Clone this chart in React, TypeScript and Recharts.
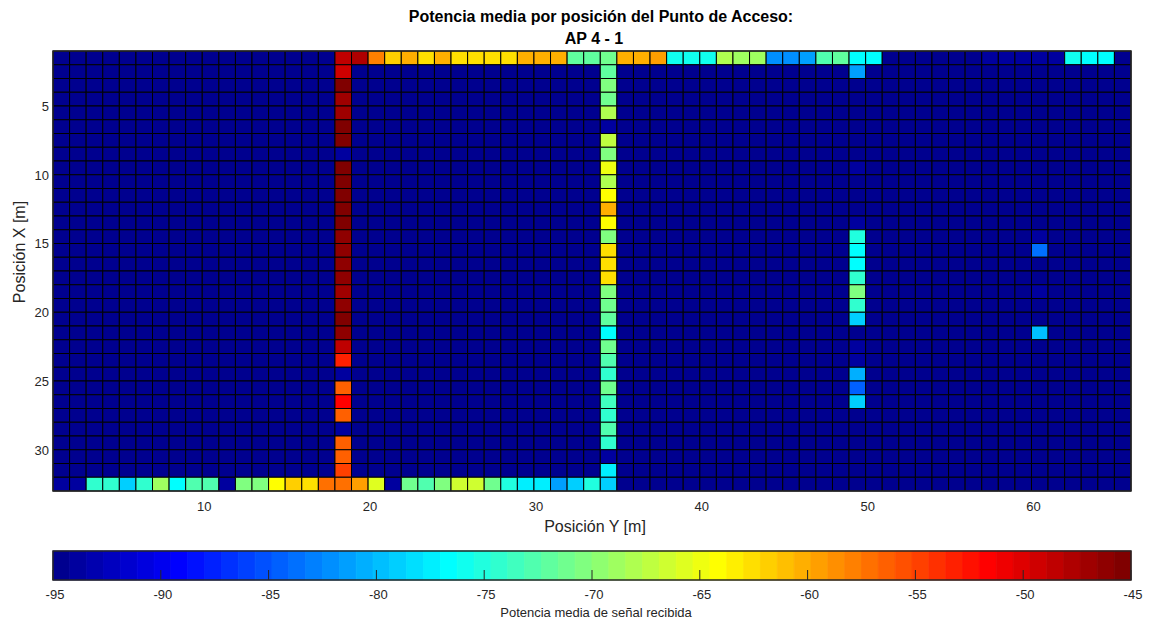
import React from "react";
import { ScatterChart, Scatter, XAxis, YAxis, ReferenceArea } from "recharts";

const FONT = '"Liberation Sans", Arial, Helvetica, sans-serif';
const INK = "#262626";

// colour limits of the jet scale (dBm)
const cMin = -95;
const cMax = -45;
const floorLevel = -95;

const posYTicks = [10, 20, 30, 40, 50, 60];
const posXTicks = [5, 10, 15, 20, 25, 30];
const barTicks = [-95, -90, -85, -80, -75, -70, -65, -60, -55, -50, -45];

// first row (Posición X = 1), Posición Y = 1..65
const rowTop = [
  -95, -95, -95, -95, -95, -95, -95, -95, -95, -95,
  -95, -95, -95, -95, -95, -95, -95, -48.5, -47.7, -57.9,
  -61.8, -60.6, -62.6, -60.6, -62.2, -62.6, -62.2, -62.6, -60.6, -60.6,
  -60.6, -71.9, -71.9, -71.2, -60.6, -60.6, -59.5, -75.8, -75.8, -75.8,
  -68.0, -68.8, -68.8, -82.1, -82.1, -81.3, -72.7, -71.9, -76.6, -76.6,
  -95, -95, -95, -95, -95, -95, -93.8, -93.8, -93.8, -93.8,
  -93.8, -75.8, -76.6, -76.6, -95,
];

// last row (Posición X = 32)
const rowBottom = [
  -93.8, -93.8, -74.3, -74.3, -79.0, -74.3, -68.8, -76.6, -72.7, -72.7,
  -93.8, -70.4, -70.4, -64.1, -61.8, -62.2, -57.1, -57.1, -59.5, -65.7,
  -93.8, -71.2, -72.7, -70.4, -66.5, -66.5, -71.2, -75.1, -77.4, -77.4,
  -81.3, -79.0, -75.1, -79.0, -95, -95, -95, -95, -95, -95,
  -95, -95, -95, -95, -95, -95, -95, -95, -95, -95,
  -95, -95, -95, -95, -95, -95, -95, -95, -95, -95,
  -95, -95, -95, -95, -95,
];

// measured columns, Posición X = 1..32
const col18 = [
  -48.5, -49.3, -45.4, -47.0, -47.0, -45.4, -45.4, -93.8, -45.4, -45.4,
  -45.4, -45.4, -45.4, -46.2, -46.2, -46.2, -46.2, -47.0, -46.2, -45.4,
  -46.2, -48.5, -53.2, -93.8, -56.3, -51.6, -56.3, -93.8, -56.3, -56.3,
  -54.8, -57.1,
];
const col34 = [
  -71.2, -71.9, -70.4, -71.2, -68.0, -93.8, -67.3, -70.4, -64.9, -68.0,
  -64.1, -60.6, -64.1, -70.4, -62.2, -62.2, -62.6, -70.4, -71.2, -71.9,
  -76.6, -71.2, -72.7, -74.3, -71.2, -73.5, -74.3, -72.7, -74.3, -93.8,
  -77.4, -79.0,
];
const col49 = [
  -76.6, -81.3, -95, -95, -95, -95, -95, -95, -93.8, -95,
  -95, -95, -93.8, -75.1, -76.6, -76.6, -74.3, -70.4, -74.3, -79.0,
  -95, -93.8, -93.8, -80.9, -84.5, -79.0, -95, -95, -95, -95,
  -95, -95,
];
const col60 = [
  -93.8, -95, -95, -95, -95, -95, -95, -95, -95, -95,
  -95, -95, -95, -93.8, -83.7, -95, -95, -93.8, -95, -95,
  -79.8, -95, -95, -95, -95, -95, -95, -95, -95, -95,
  -95, -95,
];
const columns: [number, number[]][] = [
  [18, col18],
  [34, col34],
  [49, col49],
  [60, col60],
];

const nCols = rowTop.length;
const nRows = col18.length;

// MATLAB jet(64)
function jetRgb(k: number) {
  const r = k <= 24 ? 0 : k <= 40 ? (k - 24) / 16 : k <= 56 ? 1 : (72 - k) / 16;
  const g = k <= 8 ? 0 : k <= 24 ? (k - 8) / 16 : k <= 40 ? 1 : k <= 56 ? (56 - k) / 16 : 0;
  const b = k <= 8 ? (k + 8) / 16 : k <= 24 ? 1 : k <= 40 ? (40 - k) / 16 : 0;
  const h = (x: number) => Math.round(x * 255).toString(16).padStart(2, "0");
  return "#" + h(r) + h(g) + h(b);
}
function jet(v: number) {
  const k = Math.floor(((v - cMin) / (cMax - cMin)) * 64) + 1;
  return jetRgb(Math.min(64, Math.max(1, k)));
}

const cells: { c: number; r: number; v: number }[] = [];
for (let r = 1; r <= nRows; r++) {
  for (let c = 1; c <= nCols; c++) {
    let v = floorLevel;
    if (r === 1) v = rowTop[c - 1];
    if (r === nRows) v = rowBottom[c - 1];
    const col = columns.find(([cc]) => cc === c);
    if (col) v = col[1][r - 1];
    cells.push({ c, r, v });
  }
}

const bandStep = (cMax - cMin) / 64;
const bands = Array.from({ length: 64 }, (_, i) => ({
  x1: cMin + i * bandStep,
  x2: cMin + (i + 1) * bandStep,
  lvl: 0,
  fill: jetRgb(i + 1),
}));

const noMark = () => <g />;

const colTick = (p: any) => (
  <text x={p.x + 2} y={p.y + 20} textAnchor="middle" fontSize={13} fill={INK} fontFamily={FONT}>
    {p.payload.value}
  </text>
);
const rowTick = (p: any) => (
  <text x={p.x - 4} y={p.y + 4.8} textAnchor="end" fontSize={13} fill={INK} fontFamily={FONT}>
    {p.payload.value}
  </text>
);
const barTick = (p: any) => (
  <g>
    <line x1={p.x} x2={p.x} y1={p.y} y2={p.y - 10} stroke={INK} strokeWidth={1} />
    <text x={p.x + 2} y={p.y + 19.3} textAnchor="middle" fontSize={13} fill={INK} fontFamily={FONT}>
      {p.payload.value}
    </text>
  </g>
);

export default function App() {
  return (
    <div style={{ position: "fixed", left: 0, top: 0, width: 1162, height: 626, background: "#fff" }}>
      <div style={{ position: "absolute", left: 0, top: 0 }}>
        <ScatterChart width={1162} height={530} margin={{ top: 51, right: 31, bottom: 0, left: 0 }}>
          <XAxis
            type="number"
            dataKey="c"
            domain={[1, 66]}
            ticks={posYTicks}
            interval={0}
            allowDataOverflow
            axisLine={false}
            tickLine={false}
            tickSize={0}
            tickMargin={0}
            height={39}
            tick={colTick}
          />
          <YAxis
            type="number"
            dataKey="r"
            domain={[1, 33]}
            reversed
            ticks={posXTicks}
            interval={0}
            allowDataOverflow
            axisLine={false}
            tickLine={false}
            tickSize={0}
            tickMargin={0}
            width={53}
            tick={rowTick}
          />
          <Scatter data={cells} shape={noMark} isAnimationActive={false} />
          {cells.map((d) => (
            <ReferenceArea
              key={`${d.c}-${d.r}`}
              x1={d.c}
              x2={d.c + 1}
              y1={d.r}
              y2={d.r + 1}
              fill={jet(d.v)}
              fillOpacity={1}
              stroke="#000"
              strokeWidth={1}
            />
          ))}
          <ReferenceArea x1={1} x2={66} y1={1} y2={33} fill="none" stroke={INK} strokeWidth={1.5} />
        </ScatterChart>
      </div>
      <div style={{ position: "absolute", left: 0, top: 540 }}>
        <ScatterChart width={1162} height={86} margin={{ top: 11, right: 31, bottom: 0, left: 53 }}>
          <YAxis type="number" dataKey="lvl" domain={[0, 1]} allowDataOverflow hide />
          <Scatter data={bands} shape={noMark} isAnimationActive={false} />
          {bands.map((b, i) => (
            <ReferenceArea
              key={i}
              x1={b.x1}
              x2={b.x2}
              y1={0}
              y2={1}
              fill={b.fill}
              fillOpacity={1}
              stroke={b.fill}
              strokeWidth={0.8}
            />
          ))}
          <ReferenceArea x1={cMin} x2={cMax} y1={0} y2={1} fill="none" stroke={INK} strokeWidth={1.5} />
          <XAxis
            type="number"
            dataKey="x1"
            domain={[cMin, cMax]}
            ticks={barTicks}
            interval={0}
            allowDataOverflow
            axisLine={false}
            tickLine={false}
            tickSize={0}
            tickMargin={0}
            height={46}
            tick={barTick}
          />
        </ScatterChart>
      </div>
      <svg
        width={1162}
        height={626}
        style={{ position: "absolute", left: 0, top: 0, pointerEvents: "none" }}
        fontFamily={FONT}
      >
        <text x={601} y={21.5} textAnchor="middle" fontSize={16} fontWeight="bold" fill="#000">
          Potencia media por posición del Punto de Acceso:
        </text>
        <text x={594} y={44.3} textAnchor="middle" fontSize={16} fontWeight="bold" fill="#000">
          AP 4 - 1
        </text>
        <text x={595} y={532.3} textAnchor="middle" fontSize={16} fill={INK}>
          Posición Y [m]
        </text>
        <text x={24.5} y={252} textAnchor="middle" fontSize={16} fill={INK} transform="rotate(-90 24.5 252)">
          Posición X [m]
        </text>
        <text x={596} y={617} textAnchor="middle" fontSize={13} fill={INK}>
          Potencia media de señal recibida
        </text>
      </svg>
    </div>
  );
}
